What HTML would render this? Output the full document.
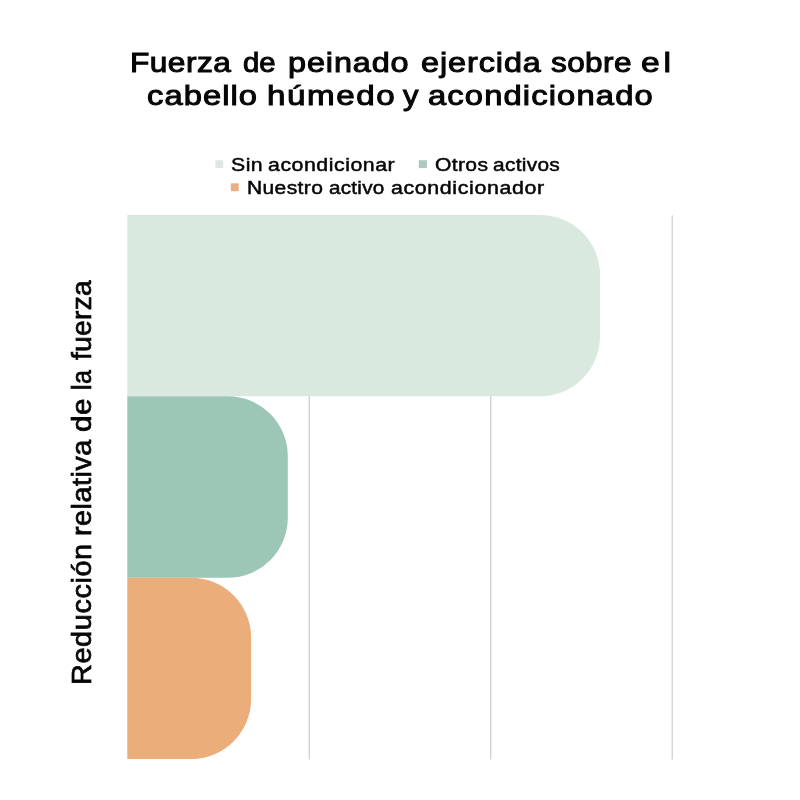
<!DOCTYPE html>
<html lang="es">
<head>
<meta charset="utf-8">
<title>Fuerza de peinado</title>
<style>
html,body{margin:0;padding:0;background:#fff;}
body{width:800px;height:800px;position:relative;overflow:hidden;font-family:"Liberation Sans",sans-serif;color:#060606;}
.abs{position:absolute;}
.ln{position:absolute;left:0;top:0;width:800px;height:0;}
.t{position:absolute;display:block;white-space:nowrap;line-height:1;transform-origin:0 0;}
.yl{width:0;height:0;font-size:26.8px;-webkit-text-stroke:0.7px #060606;transform-origin:0 0;transform:rotate(-90deg);}
.title{font-size:28px;-webkit-text-stroke:1px #060606;}
.leg{font-size:19.2px;-webkit-text-stroke:0.5px #060606;}
</style>
</head>
<body>
<svg class="abs" style="left:0;top:0" width="800" height="800" viewBox="0 0 800 800">
<g stroke="#d3d3d3" stroke-width="1.4">
<line x1="309.3" y1="215.3" x2="309.3" y2="759.6"/>
<line x1="490.7" y1="215.3" x2="490.7" y2="759.6"/>
<line x1="672.25" y1="215.3" x2="672.25" y2="759.6"/>
</g>
<path d="M127.3 215.0H540.05A60 60 0 0 1 600.05 275.00V336.30A60 60 0 0 1 540.05 396.3H127.3Z" fill="#d9e9df"/>
<path d="M127.3 396.3H227.80A60 60 0 0 1 287.8 456.30V517.70A60 60 0 0 1 227.80 577.7H127.3Z" fill="#9cc6b5"/>
<path d="M127.3 577.7H191.10A60 60 0 0 1 251.1 637.70V699.10A60 60 0 0 1 191.10 759.1H127.3Z" fill="#ebad79"/>
<rect x="215.4" y="160.2" width="7.8" height="7.9" fill="#e0e7e5"/>
<rect x="418.8" y="160.2" width="8.1" height="7.9" fill="#adc9be"/>
<rect x="230.8" y="183.3" width="7.9" height="7.9" fill="#eab083"/>
</svg>

<div id="t1" class="ln">
<span class="t title" style="left:129.6px;top:49px;letter-spacing:0.395px;transform:scaleX(1.131)">Fuerza</span> 
<span class="t title" style="left:242.69px;top:49px;letter-spacing:0.092px;transform:scaleX(1.045)">de</span> 
<span class="t title" style="left:288.06px;top:49px;letter-spacing:0.765px;transform:scaleX(1.157)">peinado</span> 
<span class="t title" style="left:420.58px;top:49px;letter-spacing:0.806px;transform:scaleX(1.156)">ejercida</span> 
<span class="t title" style="left:551.25px;top:49px;letter-spacing:0.334px;transform:scaleX(1.127)">sobre</span> 
<span class="t title" style="left:641.14px;top:49px;letter-spacing:3.196px;transform:scaleX(1.2)">el</span>
</div>
<div id="t2" class="ln">
<span class="t title" style="left:146.77px;top:82px;letter-spacing:0.902px;transform:scaleX(1.168)">cabello</span> 
<span class="t title" style="left:266.71px;top:82px;letter-spacing:1.296px;transform:scaleX(1.185)">húmedo</span> 
<span class="t title" style="left:402.52px;top:82px;letter-spacing:0.0px;transform:scaleX(1.103)">y</span> 
<span class="t title" style="left:428.14px;top:82px;letter-spacing:0.954px;transform:scaleX(1.17)">acondicionado</span>
</div>
<div id="l1" class="ln">
<span class="t leg" style="left:231.35px;top:155px;letter-spacing:0.442px;transform:scaleX(1.107)">Sin</span> 
<span class="t leg" style="left:267.57px;top:155px;letter-spacing:0.495px;transform:scaleX(1.109)">acondicionar</span>
</div>
<div id="l2" class="ln">
<span class="t leg" style="left:434.87px;top:155px;letter-spacing:0.32px;transform:scaleX(1.098)">Otros</span> 
<span class="t leg" style="left:493.48px;top:155px;letter-spacing:0.273px;transform:scaleX(1.088)">activos</span>
</div>
<div id="l3" class="ln">
<span class="t leg" style="left:246.99px;top:178px;letter-spacing:0.338px;transform:scaleX(1.096)">Nuestro</span> 
<span class="t leg" style="left:328.99px;top:178px;letter-spacing:0.241px;transform:scaleX(1.078)">activo</span> 
<span class="t leg" style="left:391.35px;top:178px;letter-spacing:0.553px;transform:scaleX(1.115)">acondicionador</span>
</div>

<div id="yl" class="ln yl" style="left:68.9px;top:700px;">
<span class="t" style="left:14.78px;top:0;letter-spacing:0.557px;transform:scaleX(1.077)">Reducción</span> 
<span class="t" style="left:164.00px;top:0;letter-spacing:0.475px;transform:scaleX(1.073)">relativa</span> 
<span class="t" style="left:268.30px;top:0;letter-spacing:0.37px;transform:scaleX(1.107)">de</span> 
<span class="t" style="left:309.85px;top:0;letter-spacing:0.37px;transform:scaleX(0.934)">la</span> 
<span class="t" style="left:340.47px;top:0;letter-spacing:0.24px;transform:scaleX(1.055)">fuerza</span>
</div>
</body>
</html>
